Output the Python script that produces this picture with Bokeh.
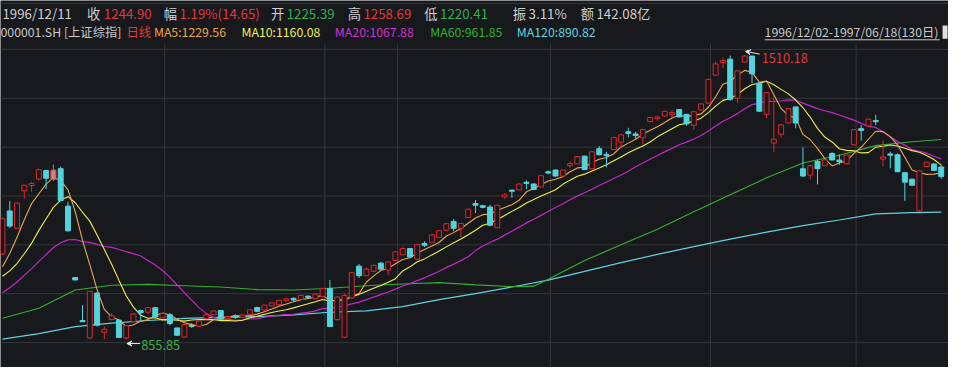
from bokeh.plotting import figure
from bokeh.models import Range1d, Label, Arrow, VeeHead, ColumnDataSource
from bokeh.embed import file_html
from bokeh.resources import INLINE

# ---------------- data ----------------
opens = [1054, 1151, 1113, 1199, 1211, 1226, 1244, 1225.39, 1248, 1162,
         998, 899, 861, 962, 874, 903, 900, 861, 898, 922,
         920, 928.5, 907, 912.5, 882, 863, 888, 888, 905, 914,
         922, 905, 910, 908, 915, 929, 925, 934.5, 937, 947,
         950, 949, 955, 951, 956.5, 973, 903, 862.5, 953, 1024,
         1004, 1014, 1031, 1017, 1039, 1052, 1064.5, 1042, 1076, 1081,
         1092, 1108.6, 1127, 1113, 1138, 1168, 1163, 1160, 1114, 1185,
         1199, 1201, 1217, 1213, 1208, 1241, 1245, 1233, 1257, 1261,
         1277, 1250, 1294, 1281, 1294, 1311, 1333, 1328, 1321, 1358,
         1365, 1371, 1374, 1384, 1373, 1349.5, 1385, 1400.6, 1465, 1494,
         1500, 1412, 1495, 1507, 1445, 1375, 1309, 1329, 1355, 1390,
         1248, 1235, 1265, 1257, 1283, 1268, 1261, 1305, 1340, 1348,
         1359, 1272, 1282, 1280, 1239, 1224, 1153, 1255, 1259, 1252]
highs = [1137, 1175, 1172, 1211, 1219, 1249, 1247, 1258.69, 1254, 1173,
         1000, 935, 968, 966, 886, 916, 903, 890, 916, 925,
         931, 930, 917, 917, 884, 894, 894, 899, 914, 923,
         924, 911, 914, 914, 925, 932, 936, 941, 947, 953,
         953, 958, 958, 962, 975, 993, 955, 962, 1012, 1030,
         1022, 1029, 1034, 1035, 1059, 1068, 1066, 1076, 1082, 1098,
         1108, 1124, 1133, 1124, 1157, 1177, 1166, 1166, 1166, 1193,
         1200, 1216, 1222, 1215, 1234, 1245, 1247, 1247, 1266, 1278,
         1279, 1289, 1301, 1288, 1322, 1327, 1343, 1334, 1340, 1367,
         1371, 1382, 1384, 1386, 1375, 1381, 1399, 1456, 1495, 1505,
         1509, 1475, 1510.18, 1509, 1447, 1425, 1415, 1351, 1388, 1392,
         1298, 1258, 1270, 1270, 1287, 1282, 1281, 1340, 1349, 1363,
         1373, 1314, 1288, 1284, 1241, 1226, 1245, 1264, 1261, 1258]
lows = [1050, 1113, 1110, 1180, 1195, 1222, 1202, 1220.41, 1174, 1105,
        993, 897, 858, 886, 857, 900, 860, 855.85, 895, 898,
        915, 906, 905, 889, 865, 861, 883, 886, 903, 912,
        902, 903, 904, 906, 913, 919, 923, 932, 935, 943,
        945, 947, 950, 949, 954, 885, 900, 860, 950, 998,
        1002, 1011, 1016, 1004, 1036, 1050, 1045, 1040, 1069, 1079,
        1090, 1106, 1105, 1092, 1135, 1147, 1158, 1117, 1112, 1180,
        1182, 1199, 1202, 1200, 1206, 1236, 1231, 1231, 1250, 1259,
        1246, 1248, 1280, 1252, 1292, 1296, 1321, 1318, 1305, 1356,
        1359, 1369, 1366, 1367, 1348, 1338, 1383, 1398, 1463, 1480,
        1405, 1400, 1493, 1446, 1380, 1365, 1287, 1320, 1353, 1342,
        1230, 1224, 1213, 1255, 1268, 1258, 1259, 1303, 1313, 1346,
        1349, 1255, 1250, 1241, 1175, 1210, 1150, 1253, 1244, 1226]
closes = [1133, 1118, 1169, 1210, 1214, 1246, 1228, 1244.90, 1177, 1107,
          994, 898, 966, 890, 879, 910, 862, 887, 914, 919,
          928.5, 909, 915, 894, 867, 890, 887, 898, 912.5, 921,
          904, 908, 908, 912, 923.5, 922, 934.5, 939.6, 945.5, 949,
          948, 956.5, 954, 960, 973, 887, 953, 956.5, 1009, 1004,
          1017, 1026, 1019, 1034, 1057, 1064.5, 1047, 1074, 1074, 1096,
          1105.5, 1121.7, 1113, 1122, 1155, 1166, 1161, 1120, 1164, 1188,
          1198, 1213, 1216, 1202, 1232, 1240, 1233, 1245, 1260, 1276,
          1248, 1287, 1282, 1280, 1320, 1326, 1331, 1326, 1338, 1365.5,
          1367, 1380, 1377, 1369, 1353, 1379, 1397, 1453.5, 1489, 1497,
          1409.5, 1473, 1507, 1468, 1382, 1423, 1316, 1349, 1386, 1355,
          1233, 1255, 1250, 1268.5, 1270, 1266, 1279.5, 1338, 1338, 1362,
          1358, 1275, 1281, 1243, 1219, 1212, 1243, 1263, 1246, 1232]
# closes of the 19 sessions before 1996/12/02 (estimated, needed for MA5/10/20)
prior_close = [895, 900, 905, 908, 912, 915, 919, 960, 970, 980,
               993, 1000, 985, 975, 948, 962, 983, 1008, 1029]

ma60_idx = [0, 5, 10, 15, 20, 25, 30, 35, 40, 45, 50, 55, 60, 65, 70, 73,
            75, 80, 85, 90, 95, 100, 105, 110, 115, 120, 125, 129]
ma60_val = [905, 928, 970, 981, 983, 980, 977, 971, 970, 974, 980, 984, 987,
            982, 978, 979, 995, 1038, 1074, 1110, 1150, 1189, 1228, 1262,
            1280, 1302, 1311, 1316]
ma120_idx = [0, 5, 10, 15, 20, 25, 30, 35, 40, 45, 50, 55, 60, 65, 70, 75,
             80, 85, 90, 95, 100, 105, 110, 115, 120, 125, 129]
ma120_val = [857, 870, 886, 894, 900, 905, 907, 909, 913, 919, 922, 932, 948,
             962, 977, 993, 1013, 1033, 1052, 1070, 1087, 1103, 1118, 1131,
             1145, 1148, 1149]

month_start = [22, 44, 54, 75, 97, 117]
selected = 7

header1 = [("1996/12/11", "#d0d0d0"), ("收", "#d0d0d0"), ("1244.90", "#e0383c"),
           ("幅", "#d0d0d0"), ("1.19%(14.65)", "#e0383c"), ("开", "#d0d0d0"),
           ("1225.39", "#2fb04a"), ("高", "#d0d0d0"), ("1258.69", "#e0383c"),
           ("低", "#d0d0d0"), ("1220.41", "#2fb04a"), ("振", "#d0d0d0"),
           ("3.11%", "#d0d0d0"), ("额", "#d0d0d0"), ("142.08亿", "#d0d0d0")]
header1_x = [2, 88, 105, 166, 182, 275, 291, 353, 369, 431, 447, 521, 537, 590, 606]
header2 = [("000001.SH [上证综指]", "#c8c8c8"), ("日线", "#e0383c"),
           ("MA5:1229.56", "#e8a640"), ("MA10:1160.08", "#eeee55"),
           ("MA20:1067.88", "#d030d0"), ("MA60:961.85", "#30b030"),
           ("MA120:890.82", "#66d0e0")]
header2_x = [0, 128, 156, 245, 340, 437, 525]
range_text = "1996/12/02-1997/06/18(130日)"
high_text = "1510.18"
low_text = "855.85"

# ---------------- layout helpers (reference pixels -> data) ----------------
W, H = 948, 367
REF_W, REF_H = 964, 383
X0, X1 = -0.27, 130.0
Y_TOP, Y_BOT = 1635.7, 791.96
FS = W / REF_W


def X(px):
    return X0 + px / REF_W * (X1 - X0)


def Y(py):
    return Y_TOP - py / REF_H * (Y_TOP - Y_BOT)


n = len(closes)
idx = list(range(n))
allc = prior_close + closes


def ma(k):
    out = []
    off = len(prior_close)
    for i in range(n):
        seg = allc[off + i - k + 1: off + i + 1]
        out.append(sum(seg) / k)
    return out


BG = "#17191d"
GRID = "#35383d"
UP = "#e0262b"
DOWN = "#52d4dc"
FONT = "Noto Sans CJK SC"

p = figure(width=W, height=H, output_backend="svg", toolbar_location=None,
           x_range=Range1d(X0, X1), y_range=Range1d(Y_BOT, Y_TOP),
           min_border=0, background_fill_color=BG, border_fill_color=BG,
           outline_line_color=None)
p.axis.visible = False
p.grid.visible = False

# grid
for gy in [3, 51, 102, 153, 204, 255, 306, 357]:
    p.segment(x0=X(0), x1=X(REF_W), y0=Y(gy), y1=Y(gy), line_color=GRID, line_width=1)
for m in month_start:
    p.segment(x0=m + 0.3, x1=m + 0.3, y0=Y(45), y1=Y(REF_H), line_color=GRID, line_width=1)

# moving averages
p.line(ma120_idx, ma120_val, line_color="#66d0e0", line_width=1.2)
p.line(ma60_idx, ma60_val, line_color="#35b030", line_width=1.1)
p.line(idx, ma(20), line_color="#c428c8", line_width=1.2)
p.line(idx, ma(10), line_color="#f0f050", line_width=1.1)
p.line(idx, ma(5), line_color="#eaa850", line_width=1.1)

# candles
up = [i for i in idx if closes[i] >= opens[i] and i != selected]
dn = [i for i in idx if closes[i] < opens[i]]
BW = 0.68


def src(ids):
    return ColumnDataSource(dict(
        x=ids,
        h=[highs[i] for i in ids], l=[lows[i] for i in ids],
        top=[max(opens[i], closes[i]) + 0.9 for i in ids],
        bot=[min(opens[i], closes[i]) - 0.9 for i in ids]))


su, sd, ss = src(up), src(dn), src([selected])
p.segment(x0="x", x1="x", y0="l", y1="h", source=su, line_color=UP, line_width=1)
p.vbar(x="x", width=BW, top="top", bottom="bot", source=su,
       fill_color=BG, line_color=UP, line_width=1)
p.segment(x0="x", x1="x", y0="l", y1="h", source=sd, line_color=DOWN, line_width=1)
p.vbar(x="x", width=BW, top="top", bottom="bot", source=sd,
       fill_color=DOWN, line_color=DOWN, line_width=1)
p.segment(x0="x", x1="x", y0="l", y1="h", source=ss, line_color="#e06a6a", line_width=1)
p.vbar(x="x", width=BW, top="top", bottom="bot", source=ss,
       fill_color="#d98080", line_color="#e04a4a", line_width=1)

# extreme markers
hi_i = highs.index(max(highs))
lo_i = lows.index(min(lows))
p.add_layout(Arrow(end=VeeHead(size=5, line_color="#e8e8e8", fill_color="#e8e8e8"),
                   x_start=X(772), y_start=Y(56), x_end=hi_i + 0.1, y_end=Y(53),
                   line_color="#e8e8e8", line_width=1))
p.add_layout(Label(x=X(774), y=Y(60), text=high_text, text_color="#e0383c",
                   text_font=FONT, text_font_size=f"{13 * FS:.1f}px",
                   text_baseline="middle"))
p.add_layout(Arrow(end=VeeHead(size=5, line_color="#e8e8e8", fill_color="#e8e8e8"),
                   x_start=X(142), y_start=Y(358), x_end=lo_i + 0.1, y_end=Y(358),
                   line_color="#e8e8e8", line_width=1))
p.add_layout(Label(x=X(143), y=Y(359), text=low_text, text_color="#3cae4c",
                   text_font=FONT, text_font_size=f"{13 * FS:.1f}px",
                   text_baseline="middle"))

# header texts
for (t, c), px in zip(header1, header1_x):
    p.add_layout(Label(x=X(px), y=Y(14), text=t, text_color=c, text_font=FONT,
                       text_font_size=f"{13.5 * FS:.1f}px", text_baseline="middle"))
for (t, c), px in zip(header2, header2_x):
    p.add_layout(Label(x=X(px), y=Y(33), text=t, text_color=c, text_font=FONT,
                       text_font_size=f"{12.5 * FS:.1f}px", text_baseline="middle"))
p.add_layout(Label(x=X(777), y=Y(33), text=range_text, text_color="#c8c8c8",
                   text_font=FONT, text_font_size=f"{12.5 * FS:.1f}px",
                   text_baseline="middle"))
p.segment(x0=X(777), x1=X(955), y0=Y(41), y1=Y(41), line_color="#c8c8c8", line_width=1)
p.quad(left=X(958), right=X(963), top=Y(26), bottom=Y(40), fill_color="#e0e0e0",
       line_color=None)

open("out.html", "w").write(file_html(p, INLINE))
